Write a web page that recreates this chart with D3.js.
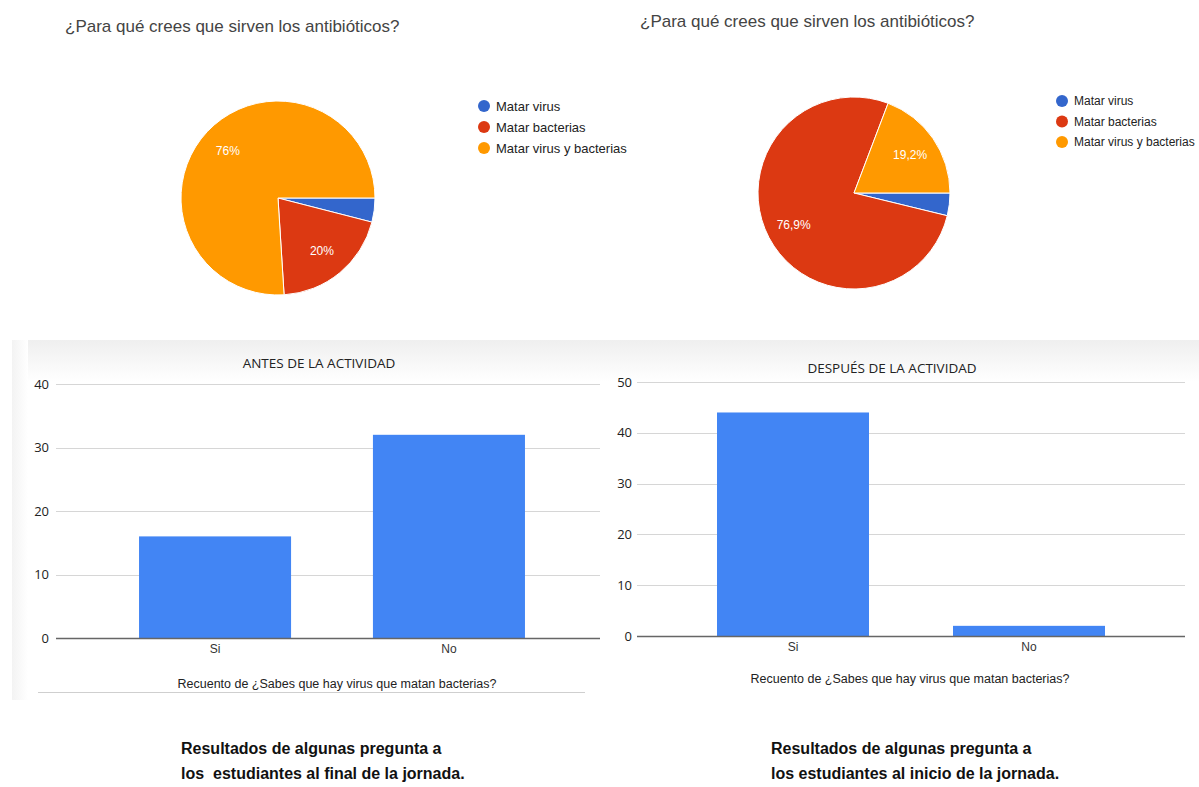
<!DOCTYPE html>
<html>
<head>
<meta charset="utf-8">
<script src="https://cdn.jsdelivr.net/npm/d3@7"></script>
<style>
  html, body { margin: 0; padding: 0; background: #fff; }
  svg { display: block; }
</style>
</head>
<body>
<svg id="chart" width="1199" height="787"></svg>
<script>
// Survey answers: "¿Para qué crees que sirven los antibióticos?"
const pieTitle = "¿Para qué crees que sirven los antibióticos?";
const pieCategories = ["Matar virus", "Matar bacterias", "Matar virus y bacterias"];
const pieColors = ["#3366cc", "#dc3912", "#ff9900"];
const pieLeftPct = [4, 20, 76];
const pieLeftLabels = ["4%", "20%", "76%"];
const pieRightPct = [3.8, 76.9, 19.2];
const pieRightLabels = ["3,8%", "76,9%", "19,2%"];

// Counts: "¿Sabes que hay virus que matan bacterias?"
const barCategories = ["Si", "No"];
const barBeforeValues = [16, 32];
const barAfterValues = [44, 2];
const barBeforeTicks = [0, 10, 20, 30, 40];
const barAfterTicks = [0, 10, 20, 30, 40, 50];
const barBeforeTitle = "ANTES DE LA ACTIVIDAD";
const barAfterTitle = "DESPUÉS DE LA ACTIVIDAD";
const barAxisTitle = "Recuento de ¿Sabes que hay virus que matan bacterias?";

const captionLeft = ["Resultados de algunas pregunta a", "los  estudiantes al final de la jornada."];
const captionRight = ["Resultados de algunas pregunta a", "los estudiantes al inicio de la jornada."];

const svg = d3.select("#chart");
const sansFont = "'Liberation Sans', Arial, sans-serif";
const titleFont = "'Open Sans', 'Liberation Sans', sans-serif";

// soft grey band behind the bar charts
const defs = svg.append("defs");
const band = defs.append("linearGradient").attr("id", "band").attr("x1", 0).attr("x2", 0).attr("y1", 0).attr("y2", 1);
band.append("stop").attr("offset", "0%").attr("stop-color", "#efefef");
band.append("stop").attr("offset", "100%").attr("stop-color", "#ffffff");
svg.append("rect").attr("x", 12).attr("y", 340).attr("width", 1187).attr("height", 42).attr("fill", "url(#band)");
const side = defs.append("linearGradient").attr("id", "side").attr("x1", 0).attr("x2", 1).attr("y1", 0).attr("y2", 0);
side.append("stop").attr("offset", "0%").attr("stop-color", "#f3f3f3");
side.append("stop").attr("offset", "100%").attr("stop-color", "#ffffff");
svg.append("rect").attr("x", 12).attr("y", 340).attr("width", 16).attr("height", 360).attr("fill", "url(#side)");

function drawPie(cfg) {
  const g = svg.append("g");
  g.append("text")
    .attr("x", cfg.titleX).attr("y", cfg.titleY)
    .attr("font-family", sansFont).attr("font-size", 17)
    .attr("fill", "#444")
    .text(pieTitle);

  const data = cfg.values.map((v, i) => ({ v, name: pieCategories[i], color: pieColors[i], label: cfg.labels[i] }));
  const pie = d3.pie().value(d => d.v).sort(null)
    .startAngle(Math.PI / 2).endAngle(Math.PI / 2 + 2 * Math.PI);
  const arcs = pie(data);
  const arc = d3.arc().innerRadius(0).outerRadius(cfg.r);
  const labelArc = d3.arc().innerRadius(cfg.r * 0.71).outerRadius(cfg.r * 0.71);

  const pg = g.append("g").attr("transform", `translate(${cfg.cx},${cfg.cy})`);
  pg.selectAll("path").data(arcs).join("path")
    .attr("d", arc)
    .attr("fill", d => d.data.color)
    .attr("stroke", "#fff").attr("stroke-width", 1);
  pg.selectAll("text").data(arcs.filter(d => d.data.v >= 5)).join("text")
    .attr("transform", d => `translate(${labelArc.centroid(d)})`)
    .attr("text-anchor", "middle").attr("dy", "0.35em")
    .attr("font-family", sansFont).attr("font-size", 12)
    .attr("fill", "#fff")
    .text(d => d.data.label);

  const lg = g.append("g").attr("transform", `translate(${cfg.legX},${cfg.legY})`);
  const items = lg.selectAll("g").data(data).join("g")
    .attr("transform", (d, i) => `translate(0,${i * cfg.legStep})`);
  items.append("circle").attr("r", 6).attr("fill", d => d.color);
  items.append("text").attr("x", 12).attr("dy", "0.35em")
    .attr("font-family", sansFont).attr("font-size", cfg.legFont).attr("fill", "#222")
    .text(d => d.name);
}

drawPie({ values: pieLeftPct, labels: pieLeftLabels, cx: 278, cy: 198, r: 97,
  titleX: 65, titleY: 32, legX: 484, legY: 106, legStep: 21, legFont: 13 });
drawPie({ values: pieRightPct, labels: pieRightLabels, cx: 854, cy: 193, r: 96,
  titleX: 640, titleY: 27, legX: 1062, legY: 101, legStep: 20.5, legFont: 12 });

function drawBars(cfg) {
  const g = svg.append("g");
  const y = d3.scaleLinear().domain([0, d3.max(cfg.ticks)]).range([cfg.y0, cfg.yTop]);
  const x = d3.scaleBand().domain(barCategories).range([cfg.x0, cfg.x1]).paddingInner(cfg.padIn).paddingOuter(cfg.padOut);

  g.append("text")
    .attr("x", cfg.titleCx).attr("y", cfg.titleY).attr("text-anchor", "middle")
    .attr("font-family", titleFont).attr("font-size", 13.5).attr("fill", "#222")
    .text(cfg.title);

  // horizontal gridlines
  g.append("g").selectAll("line").data(cfg.ticks.filter(t => t > 0)).join("line")
    .attr("x1", cfg.gridX0).attr("x2", cfg.gridX1)
    .attr("y1", d => Math.round(y(d)) + 0.5).attr("y2", d => Math.round(y(d)) + 0.5)
    .attr("stroke", "#d6d6d6").attr("stroke-width", 1);

  // value axis
  const ya = g.append("g").attr("transform", `translate(${cfg.tickX},0)`)
    .call(d3.axisLeft(y).tickValues(cfg.ticks).tickSize(0).tickPadding(0).tickFormat(d3.format("d")));
  ya.select(".domain").remove();
  ya.selectAll("text").attr("font-family", titleFont).attr("font-size", 13).attr("fill", "#222");

  g.append("g").selectAll("rect").data(cfg.values).join("rect")
    .attr("x", (d, i) => x(barCategories[i]))
    .attr("width", x.bandwidth())
    .attr("y", d => y(d))
    .attr("height", d => y(0) - y(d))
    .attr("fill", "#4285f4");

  // baseline + category axis
  const xa = g.append("g").attr("transform", `translate(0,${cfg.y0})`)
    .call(d3.axisBottom(x).tickSize(0).tickPadding(6));
  xa.select(".domain").remove();
  xa.selectAll("text").attr("font-family", sansFont).attr("font-size", 12).attr("fill", "#333");
  g.append("line")
    .attr("x1", cfg.gridX0).attr("x2", cfg.gridX1)
    .attr("y1", cfg.y0 + 0.5).attr("y2", cfg.y0 + 0.5)
    .attr("stroke", "#666").attr("stroke-width", 1.3);

  g.append("text")
    .attr("x", cfg.axisTitleCx).attr("y", cfg.axisTitleY).attr("text-anchor", "middle")
    .attr("font-family", sansFont).attr("font-size", 12.5).attr("fill", "#222")
    .text(barAxisTitle);

  if (cfg.ruleY) {
    g.append("line").attr("x1", cfg.ruleX0).attr("x2", cfg.ruleX1)
      .attr("y1", cfg.ruleY).attr("y2", cfg.ruleY)
      .attr("stroke", "#cfcfcf").attr("stroke-width", 1);
  }
}

drawBars({ values: barBeforeValues, ticks: barBeforeTicks, title: barBeforeTitle,
  y0: 638, yTop: 384, x0: 56, x1: 608, padIn: 0.35, padOut: 0.355,
  gridX0: 56, gridX1: 600, tickX: 49, titleCx: 319, titleY: 368,
  axisTitleCx: 337, axisTitleY: 688, ruleY: 692.5, ruleX0: 38, ruleX1: 585 });
drawBars({ values: barAfterValues, ticks: barAfterTicks, title: barAfterTitle,
  y0: 636, yTop: 382, x0: 637, x1: 1185, padIn: 0.356, padOut: 0.339,
  gridX0: 637, gridX1: 1185, tickX: 632, titleCx: 892, titleY: 373,
  axisTitleCx: 910, axisTitleY: 683 });

function drawCaption(lines, x, y0) {
  svg.append("g").selectAll("text").data(lines).join("text")
    .attr("x", x).attr("y", (d, i) => y0 + i * 25)
    .attr("font-family", sansFont).attr("font-size", 16).attr("font-weight", "bold")
    .attr("fill", "#111").attr("xml:space", "preserve")
    .style("white-space", "pre")
    .text(d => d);
}
drawCaption(captionLeft, 181, 754);
drawCaption(captionRight, 771, 754);
</script>
</body>
</html>
